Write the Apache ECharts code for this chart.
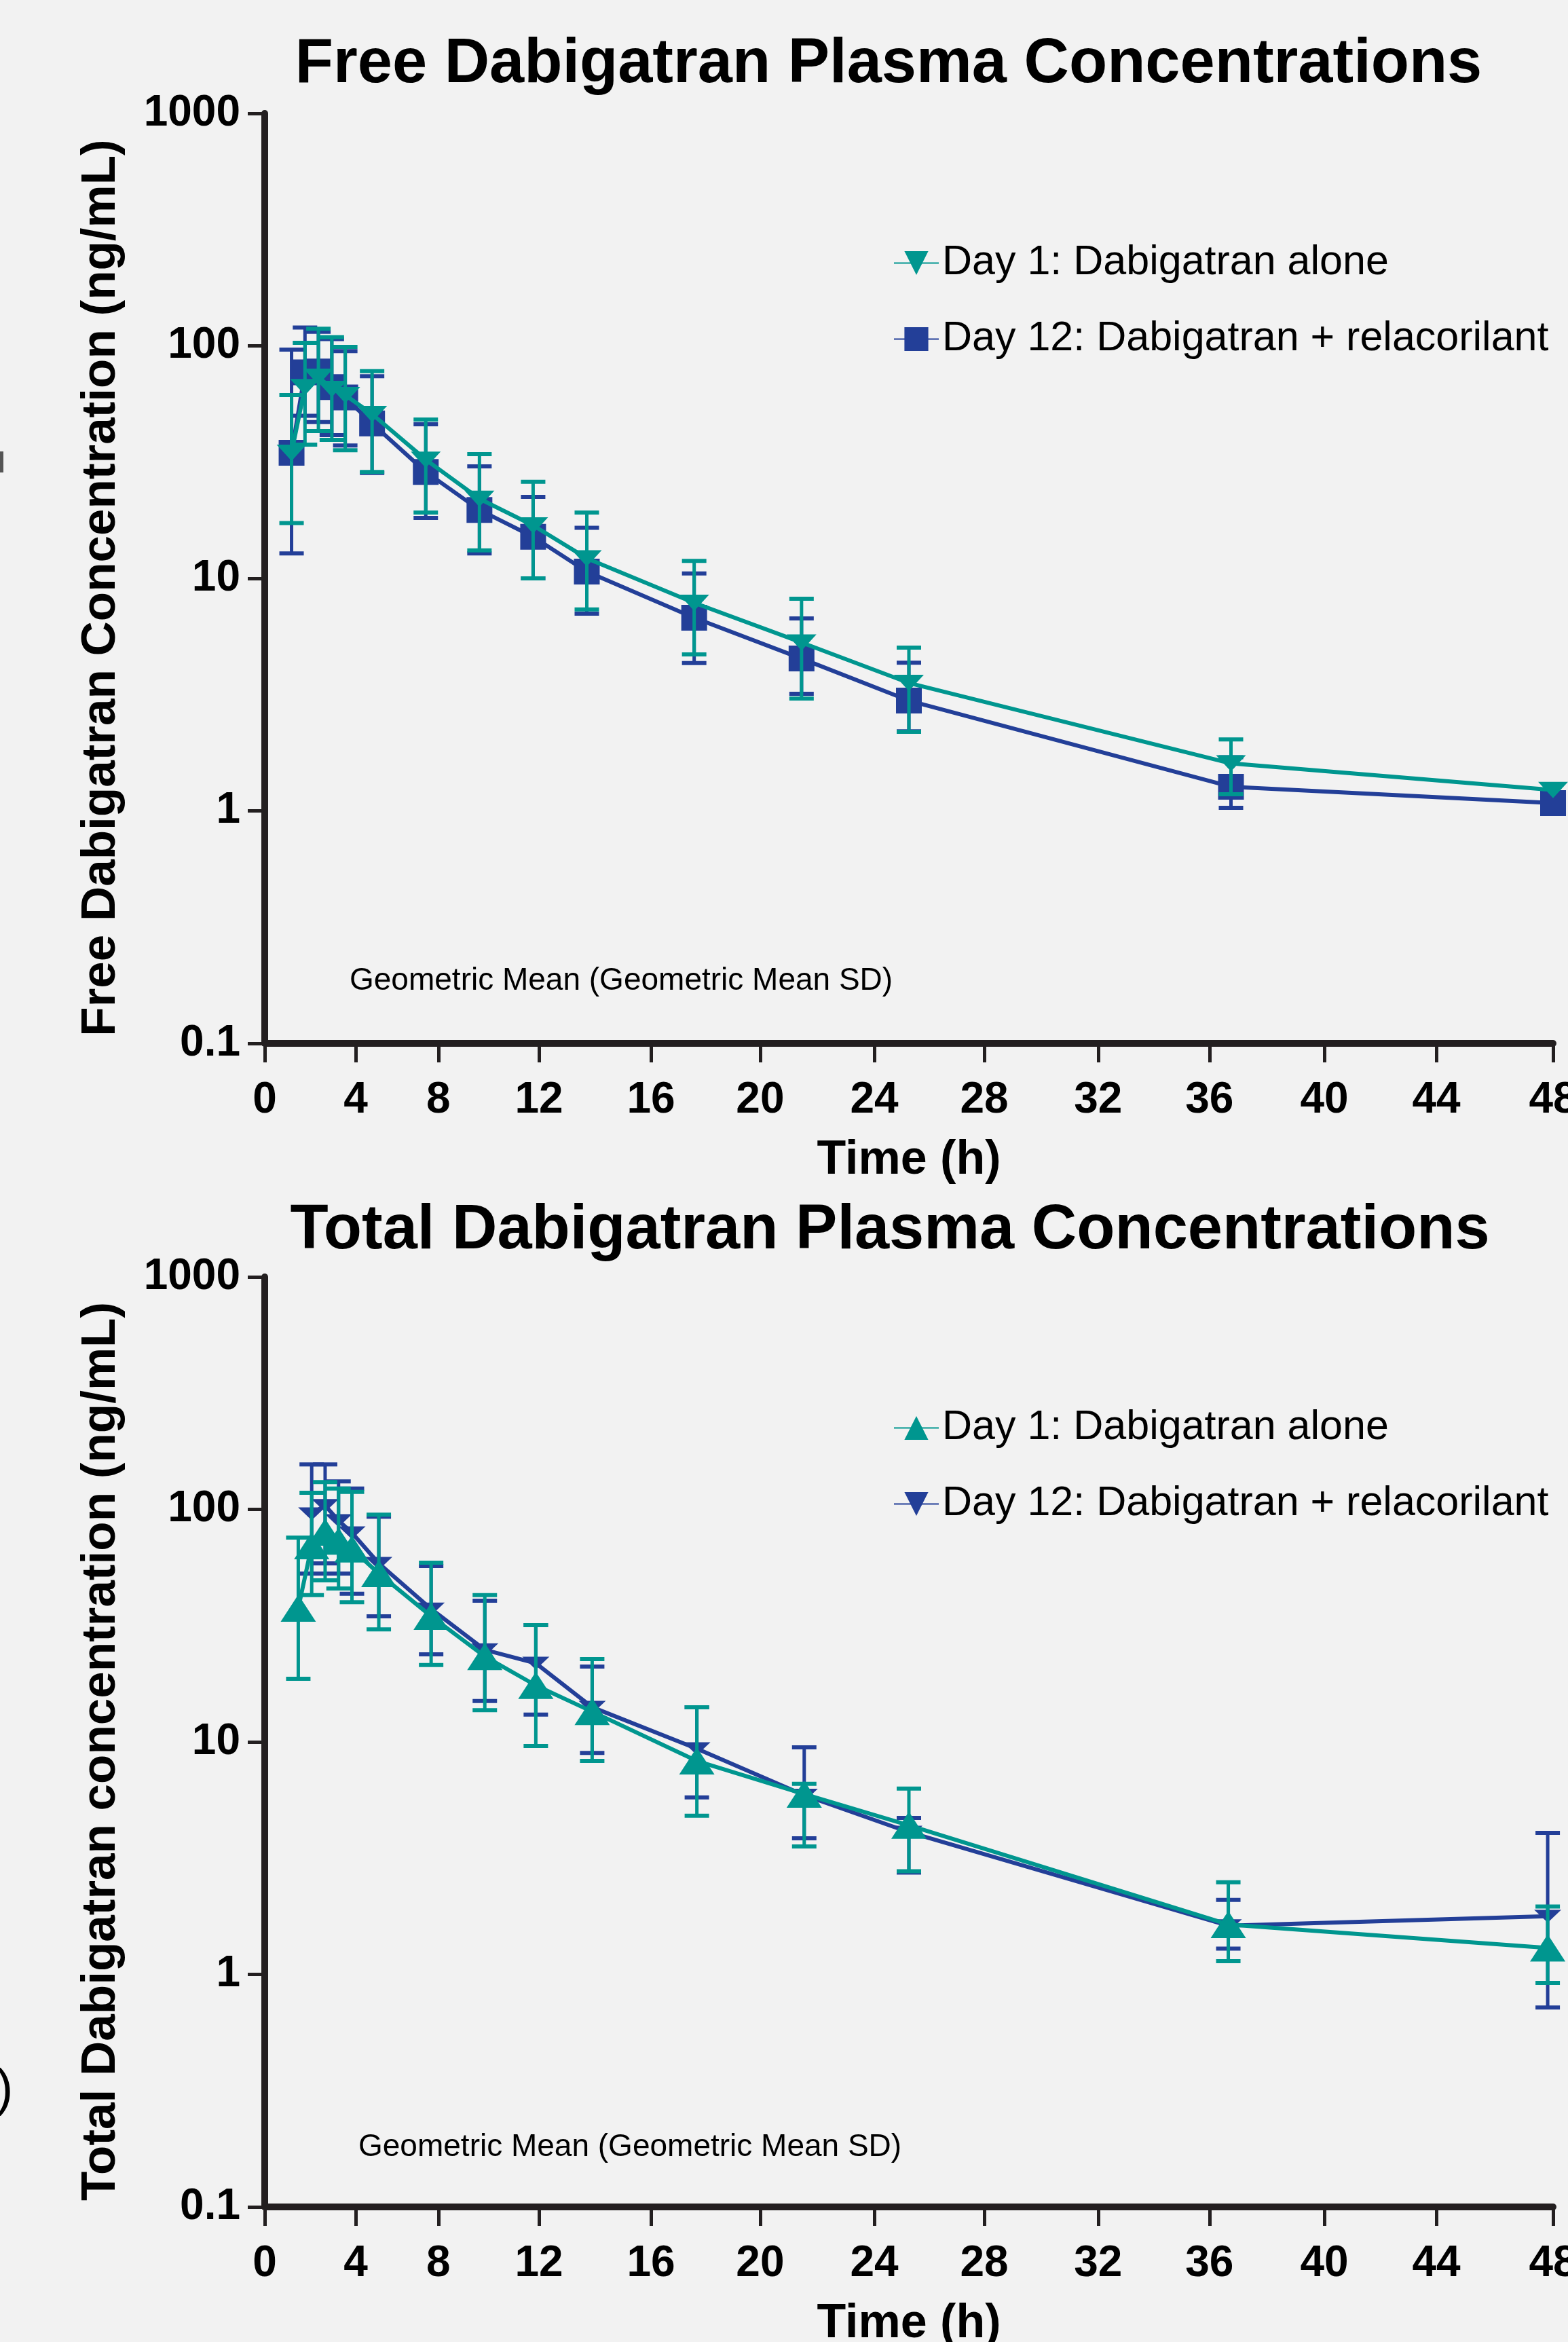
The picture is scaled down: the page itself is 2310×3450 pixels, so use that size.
<!DOCTYPE html>
<html>
<head>
<meta charset="utf-8">
<script src="https://cdn.jsdelivr.net/npm/echarts@6/dist/echarts.min.js"></script>
<style>
html,body{margin:0;padding:0;background:#f2f2f2;}
#c{width:2310px;height:3450px;}
</style>
</head>
<body>
<div id="c"></div>
<script>
// ---------- tick labels ----------
// positions (in hours on the data scale) where the reference draws its time tick labels
const xTickValues = [0, 3.39, 6.47, 10.22, 14.39, 18.46, 22.71, 26.81, 31.05, 35.2, 39.48, 43.65, 48];
const xTickLabels = ['0', '4', '8', '12', '16', '20', '24', '28', '32', '36', '40', '44', '48'];
const yTickValues = [0.1, 1, 10, 100, 1000];
const yTickLabels = ['0.1', '1', '10', '100', '1000'];

const seriesLabels = ['Day 1: Dabigatran alone', 'Day 12: Dabigatran + relacorilant'];

// ---------- Free dabigatran (top panel) ----------
const freeTimes   = [1, 1.5, 2, 2.5, 3, 4, 6, 8, 10, 12, 16, 20, 24, 36, 48];
const freeDay1    = [34.7, 66.5, 73.6, 65.3, 61.4, 50.9, 32.4, 22.0, 16.9, 12.2, 7.85, 5.3, 3.55, 1.6, 1.23];
const freeDay1Lo  = [17.3, 37.6, 43.0, 39.4, 35.6, 28.7, 19.2, 13.2, 10.0, 7.35, 4.71, 3.04, 2.19, 1.18, null];
const freeDay1Hi  = [61.4, 103, 118.6, 109, 99, 77.8, 48.2, 34.2, 26.0, 19.2, 11.9, 8.17, 5.04, 2.03, null];
const freeDay12   = [34.7, 77, 77.6, 66.5, 60, 46.4, 28.7, 19.7, 15.1, 10.7, 6.77, 4.52, 2.98, 1.27, 1.08];
const freeDay12Lo = [12.8, 50, 47, 41.3, 37.3, 28.4, 18.2, 12.8, 10.0, 7.05, 4.32, 3.19, 2.2, 1.03, null];
const freeDay12Hi = [96.4, 120, 115, 107, 95, 74, 46, 30.3, 22.4, 16.5, 10.5, 6.73, 4.34, 1.7, null];

// ---------- Total dabigatran (bottom panel) ----------
const totalTimes   = [1.25, 1.75, 2.25, 2.75, 3.25, 4.25, 6.2, 8.2, 10.1, 12.2, 16.1, 20.1, 24, 35.9, 47.8];
const totalDay1    = [37.6, 69.8, 79.8, 73, 67.6, 53, 34.7, 23.3, 17.5, 13.5, 8.28, 5.96, 4.38, 1.64, 1.30];
const totalDay1Lo  = [18.7, 42.8, 49.5, 45.7, 39.9, 30.5, 21.4, 13.7, 9.6, 8.28, 4.81, 3.55, 2.78, 1.14, 0.92];
const totalDay1Hi  = [75.7, 118, 131, 123, 119, 95, 59, 42.8, 31.8, 22.7, 14.1, 6.6, 6.3, 2.49, 1.96];
const totalDay12   = [null, 95.7, 104, 89.5, 79.3, 58.6, 37.3, 24.9, 21.8, 14.1, 9.35, 5.9, 4.09, 1.62, 1.78];
const totalDay12Lo = [null, 53, 58.6, 53, 43.4, 34.7, 23.8, 15, 13.1, 8.97, 5.77, 3.85, 2.74, 1.29, 0.72];
const totalDay12Hi = [null, 156, 156, 132, 123, 93, 57, 40.5, 31.8, 21.1, 14.1, 9.48, 4.71, 2.09, 4.06];

// ---------- styling ----------
const TEAL = '#00968f';
const BLUE = '#233f98';
const AXIS = '#231f20';
const FONT = '"Liberation Sans", Arial, Helvetica, sans-serif';
const DOWN_TRI = 'path://M0,0L10,0L5,10Z';

function pairs(times, vals) {
  const out = [];
  times.forEach((t, i) => { if (vals[i] != null) out.push([t, vals[i]]); });
  return out;
}
function errData(times, lo, hi) {
  const out = [];
  times.forEach((t, i) => { if (lo[i] != null && hi[i] != null) out.push([t, lo[i], hi[i]]); });
  return out;
}
function errRender(color) {
  return function (params, api) {
    const t = api.value(0), lo = api.value(1), hi = api.value(2);
    const top = api.coord([t, hi]);
    const bot = api.coord([t, lo]);
    const hw = 18;
    const capStyle = { stroke: color, lineWidth: 6, fill: null };
    return {
      type: 'group',
      children: [
        { type: 'line', shape: { x1: top[0], y1: top[1], x2: bot[0], y2: bot[1] }, style: { stroke: color, lineWidth: 5 } },
        { type: 'line', shape: { x1: top[0] - hw, y1: top[1], x2: top[0] + hw, y2: top[1] }, style: capStyle },
        { type: 'line', shape: { x1: bot[0] - hw, y1: bot[1], x2: bot[0] + hw, y2: bot[1] }, style: capStyle }
      ]
    };
  };
}
function fmtX(v) {
  for (let i = 0; i < xTickValues.length; i++) {
    if (Math.abs(xTickValues[i] - v) < 0.005) return xTickLabels[i];
  }
  return '';
}
function fmtY(v) {
  for (let i = 0; i < yTickValues.length; i++) {
    if (Math.abs(Math.log10(yTickValues[i]) - Math.log10(v)) < 0.001) return yTickLabels[i];
  }
  return '';
}
function xAxisCfg(gi) {
  return {
    type: 'value', gridIndex: gi, min: 0, max: 48,
    axisLine: { show: true, onZero: false, lineStyle: { color: AXIS, width: 10 } },
    axisTick: { show: true, length: 28, customValues: xTickValues, lineStyle: { color: AXIS, width: 5 } },
    axisLabel: { customValues: xTickValues, margin: 52, fontSize: 64, fontWeight: 'bold', fontFamily: FONT, color: '#000', formatter: fmtX },
    splitLine: { show: false },
    name: 'Time (h)', nameLocation: 'middle', nameGap: 138,
    nameTextStyle: { fontSize: 70, fontWeight: 'bold', fontFamily: FONT, color: '#000' }
  };
}
function yAxisCfg(gi, name) {
  return {
    type: 'log', gridIndex: gi, logBase: 10, min: 0.1, max: 1000,
    axisLine: { show: true, lineStyle: { color: AXIS, width: 10 } },
    axisTick: { show: true, length: 25, customValues: yTickValues, lineStyle: { color: AXIS, width: 5 } },
    axisLabel: { customValues: yTickValues, margin: 36, fontSize: 64, fontWeight: 'bold', fontFamily: FONT, color: '#000', formatter: fmtY },
    splitLine: { show: false }, minorTick: { show: false },
    name: name, nameLocation: 'middle', nameRotate: 90, nameGap: 205,
    nameTextStyle: { fontSize: 71, fontWeight: 'bold', fontFamily: FONT, color: '#000', padding: [0, 28, 0, 0] }
  };
}
function lineSeries(id, gi, data, color, symbol, size, z) {
  return {
    type: 'line', name: id, xAxisIndex: gi, yAxisIndex: gi, data: data,
    symbol: symbol, symbolSize: size, symbolKeepAspect: false,
    lineStyle: { color: color, width: 6 }, itemStyle: { color: color },
    clip: false, z: z, animation: false
  };
}
function errSeries(gi, data, color, z) {
  return {
    type: 'custom', xAxisIndex: gi, yAxisIndex: gi, data: data,
    encode: { x: 0, y: [1, 2] },
    renderItem: errRender(color), clip: false, z: z, animation: false, silent: true
  };
}
const labelMap = {
  'free-d1': seriesLabels[0], 'free-d12': seriesLabels[1],
  'total-d1': seriesLabels[0], 'total-d12': seriesLabels[1]
};
function legendCfg(top, names) {
  return {
    data: names, orient: 'vertical', left: 1316, top: top,
    itemWidth: 66, itemHeight: 44, itemGap: 51, padding: 0,
    selectedMode: false, formatter: n => labelMap[n],
    textStyle: { fontSize: 61, fontFamily: FONT, color: '#000' }
  };
}
function textEl(txt, x, y, size, weight, align) {
  return {
    type: 'text', x: x, y: y, silent: true,
    style: { text: txt, fontSize: size, fontWeight: weight, fontFamily: FONT, fill: '#000', align: align, verticalAlign: 'middle' }
  };
}

const chart = echarts.init(document.getElementById('c'), null, { renderer: 'canvas' });
chart.setOption({
  backgroundColor: '#f2f2f2',
  animation: false,
  textStyle: { fontFamily: FONT },
  grid: [
    { left: 390, right: 22, top: 167, height: 1370, containLabel: false, outerBoundsMode: 'none' },
    { left: 390, right: 22, top: 1881, height: 1370, containLabel: false, outerBoundsMode: 'none' }
  ],
  xAxis: [xAxisCfg(0), xAxisCfg(1)],
  yAxis: [
    yAxisCfg(0, 'Free Dabigatran Concentration (ng/mL)'),
    yAxisCfg(1, 'Total Dabigatran concentration (ng/mL)')
  ],
  legend: [
    legendCfg(357, ['free-d1', 'free-d12']),
    legendCfg(357 + 1716, ['total-d1', 'total-d12'])
  ],
  series: [
    errSeries(0, errData(freeTimes, freeDay12Lo, freeDay12Hi), BLUE, 2),
    lineSeries('free-d12', 0, pairs(freeTimes, freeDay12), BLUE, 'rect', 38, 3),
    errSeries(0, errData(freeTimes, freeDay1Lo, freeDay1Hi), TEAL, 4),
    lineSeries('free-d1', 0, pairs(freeTimes, freeDay1), TEAL, DOWN_TRI, [44, 24], 5),

    errSeries(1, errData(totalTimes, totalDay12Lo, totalDay12Hi), BLUE, 2),
    lineSeries('total-d12', 1, pairs(totalTimes, totalDay12), BLUE, DOWN_TRI, [40, 19], 3),
    errSeries(1, errData(totalTimes, totalDay1Lo, totalDay1Hi), TEAL, 4),
    lineSeries('total-d1', 1, pairs(totalTimes, totalDay1), TEAL, 'triangle', [52, 40], 5)
  ],
  graphic: [
    textEl('Free Dabigatran Plasma Concentrations', 1309, 96, 92, 'bold', 'center'),
    textEl('Total Dabigatran Plasma Concentrations', 1311, 1814, 92, 'bold', 'center'),
    textEl('Geometric Mean (Geometric Mean SD)', 515, 1445, 46, 'normal', 'left'),
    textEl('Geometric Mean (Geometric Mean SD)', 528, 3163, 46, 'normal', 'left'),
    { type: 'rect', shape: { x: 0, y: 665, width: 5, height: 31 }, style: { fill: '#555' }, silent: true },
    textEl(')', -6, 3080, 76, 'normal', 'left')
  ]
});
</script>
</body>
</html>
